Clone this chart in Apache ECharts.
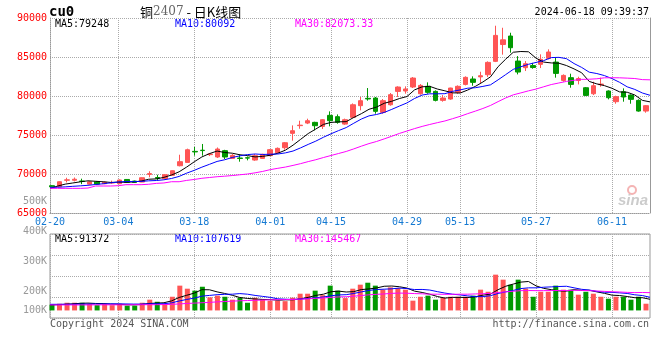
<!DOCTYPE html>
<html><head><meta charset="utf-8">
<script src="https://cdn.jsdelivr.net/npm/echarts@6/dist/echarts.min.js"></script>
<style>html,body{margin:0;padding:0;background:#fff}#c{width:660px;height:360px}</style>
</head><body><div id="c"></div>
<script>
const dates = ['02-20','02-21','02-22','02-23','02-26','02-27','02-28','02-29','03-01','03-04','03-05','03-06','03-07','03-08','03-11','03-12','03-13','03-14','03-15','03-18','03-19','03-20','03-21','03-22','03-25','03-26','03-27','03-28','03-29','04-01','04-02','04-03','04-08','04-09','04-10','04-11','04-12','04-15','04-16','04-17','04-18','04-19','04-22','04-23','04-24','04-25','04-26','04-29','04-30','05-06','05-07','05-08','05-09','05-10','05-13','05-14','05-15','05-16','05-17','05-20','05-21','05-22','05-23','05-24','05-27','05-28','05-29','05-30','05-31','06-03','06-04','06-05','06-06','06-07','06-11','06-12','06-13','06-14','06-17','06-18'];
const labelDates = ['02-20','03-04','03-18','04-01','04-15','04-29','05-13','05-27','06-11'];

const opens = [68500,68370,69200,69200,69100,68700,69000,68750,68850,68760,
69300,69100,68970,69950,69550,69400,69830,71060,71490,72900,
73050,72480,72180,72990,72000,72050,72080,71790,72000,72350,
72730,73370,75210,76200,76530,76620,76100,77520,77350,76400,
77260,78760,79700,79740,77900,78880,80590,80640,81150,80290,
81240,80590,79440,79610,80470,81490,82180,82450,82730,84440,
86600,87690,84480,83630,83900,84060,84820,84350,82000,82350,
82000,81060,80290,81450,80640,79270,80550,80120,79440,78070];
const closes = [68350,69010,69250,69330,69050,69000,68700,68950,68900,69230,
68920,68920,69520,70050,69450,69910,70420,71580,73110,72830,
73000,72560,73200,72180,72390,71990,72040,72350,72520,73115,
73290,74010,75550,76260,76830,76190,76960,76830,76620,76960,
78880,79400,79620,78030,79400,80170,81150,80900,82300,81360,
80470,79440,79740,81020,81240,82390,81750,82600,84310,87770,
87200,86190,83070,84140,83650,84700,85640,82900,82640,81490,
82230,80080,81320,81530,79780,79910,79870,79570,78070,78760];
const lows = [68300,68350,68920,69050,68700,68650,68650,68700,68750,68700,
68900,68880,68950,69580,69230,69350,69800,70980,71450,72350,
72350,72300,72050,71920,71950,71580,71750,71700,71950,72300,
72650,73120,74270,75800,76400,75600,75770,76110,76450,76300,
77200,78160,79400,77730,77730,78760,79870,80300,81020,80170,
80290,79310,79270,79520,80290,81360,81320,81660,82430,84350,
85300,85550,82770,83200,83500,83580,84700,82350,81830,81060,
81490,79990,80120,81190,79570,79010,79270,79010,77990,77860];
const highs = [68560,69050,69520,69550,69400,69050,69050,69000,69150,69300,
69350,69150,69550,70350,69900,69950,70450,72470,73250,73460,
73850,72700,73400,73100,72550,72520,72250,72550,72600,73200,
73400,74100,76230,76830,77090,76700,77050,78030,77640,77100,
79050,79870,81020,79870,79610,80380,81240,81240,82430,81530,
81750,80720,80120,81060,81360,82520,82520,83110,84440,89010,
88750,88110,85120,84480,84250,85340,85980,84910,82770,82860,
82470,81150,81830,82350,80720,80040,80980,80210,79570,78840];

const ma5 = [68150,68450,68700,68850,68998,69128,69066,69006,68920,68956,
68940,68984,69098,69328,69372,69570,69870,70282,70894,71570,
72188,72616,72940,72754,72666,72464,72360,72190,72258,72403,
72663,73057,73697,74445,75188,75768,76358,76614,76686,76712,
77250,77738,78296,78578,79066,79324,79674,79930,80784,81176,
81236,80894,80662,80406,80382,80766,81228,81800,82458,83764,
84722,85610,85704,85670,84846,84350,84240,84206,83906,83474,
82980,81868,81552,81330,80988,80524,80482,80132,79440,79248];
const ma10 = [68290,68300,68350,68420,68480,68550,68650,68750,68870,68977,
69034,69025,69052,69124,69164,69255,69427,69690,70111,70471,
70879,71243,71611,71824,72118,72326,72488,72565,72506,72535,
72564,72709,72944,73352,73796,74216,74708,75156,75566,75950,
76509,77048,77455,77632,77889,78287,78706,79113,79681,80121,
80280,80284,80296,80595,80779,81001,81061,81231,81432,82073,
82744,83419,83752,84064,84305,84536,84925,84955,84788,84160,
83665,83054,82879,82618,82231,81752,81175,80842,80385,80092];
const ma30 = [68160,68160,68160,68160,68160,68200,68460,68460,68460,68500,
68630,68630,68630,68680,68800,68850,69010,69010,69180,69300,
69450,69550,69650,69720,69800,69900,70000,70150,70330,70560,
70730,70890,71100,71330,71590,71830,72110,72370,72630,72890,
73220,73570,73900,74170,74500,74840,75200,75510,75820,76100,
76350,76580,76800,77090,77390,77740,78060,78400,78790,79280,
79750,80150,80400,80660,80890,81180,81470,81670,81870,82020,
82130,82150,82210,82330,82340,82330,82290,82240,82100,82073];

const volumes = [47000,55000,63000,63000,63000,55000,43000,55000,43000,55000,
39000,39000,63000,88000,71000,55000,112000,203000,178000,162000,
194000,107000,121000,112000,88000,104000,63000,104000,93000,80000,
80000,76000,104000,137000,137000,162000,125000,203000,162000,101000,
178000,211000,227000,203000,170000,189000,183000,170000,80000,112000,
121000,88000,104000,112000,112000,112000,121000,170000,153000,293000,
252000,211000,252000,178000,112000,153000,153000,203000,170000,170000,
129000,153000,137000,112000,96000,112000,112000,88000,112000,55000];
const volMa5 = [45000,47000,50000,54000,58000,60000,57000,56000,52000,50000,
47000,46000,48000,57000,60000,63000,78000,106000,124000,142000,
170000,169000,152000,139000,124000,106000,98000,94000,90000,89000,
84000,87000,87000,95000,107000,123000,133000,153000,158000,151000,
154000,171000,176000,184000,198000,200000,194000,183000,158000,147000,
133000,114000,101000,107000,107000,106000,112000,125000,134000,170000,
198000,216000,232000,237000,201000,181000,170000,160000,158000,170000,
165000,165000,152000,140000,125000,122000,114000,104000,104000,91372];
const volMa10 = [50000,50000,51000,51000,52000,52000,53000,53000,54000,54000,
53000,52000,52000,54000,55000,55000,62000,77000,90000,101000,
117000,123000,129000,132000,133000,138000,133000,123000,115000,107000,
95000,92000,90000,93000,98000,104000,110000,120000,127000,129000,
139000,152000,164000,171000,174000,177000,183000,179000,171000,172000,
167000,154000,142000,133000,127000,119000,113000,113000,121000,139000,
152000,164000,179000,185000,185000,190000,193000,196000,198000,185000,
173000,167000,156000,149000,148000,144000,139000,128000,122000,107619];
const volMa30 = [45000,45000,45000,45000,45000,45000,46000,46000,46000,46000,
46000,47000,47000,47000,47000,48000,50000,53000,57000,60000,
63000,66000,70000,73000,76000,79000,81000,83000,85000,87000,
88000,89000,90000,93000,95000,99000,102000,107000,111000,112000,
117000,122000,128000,132000,135000,140000,142000,141000,138000,136000,
133000,133000,132000,132000,133000,133000,135000,137000,139000,147000,
152000,157000,162000,163000,162000,162000,163000,163000,163000,165000,
164000,162000,159000,156000,153000,151000,148000,146000,147000,145467];

const priceMin = 65000, priceMax = 90000, priceStep = 5000;
const volLabelMin = 100000, volLabelMax = 500000, volLabelStep = 100000;
const mainHeader = ['MA5:79248', 'MA10:80092', 'MA30:82073.33'];
const volHeader = ['MA5:91372', 'MA10:107619', 'MA30:145467'];

const UP = '#ff5555', DOWN = '#009900';
const MONO = '"DejaVu Sans Mono", monospace';
const GRIDC = '#aaaaaa';
const isLabelDate = (i, v) => labelDates.indexOf(v) >= 0;

const chart = echarts.init(document.getElementById('c'), null, {renderer: 'canvas'});
const volMin = -62000, volMax = 626000;

const option = {
  animation: false,
  grid: [
    {left: 50, top: 18, width: 600, height: 195, outerBoundsMode: 'none'},
    {left: 52, top: 18, width: 594, height: 195, outerBoundsMode: 'none'},
    {left: 50, top: 234, width: 600, height: 84, show: true, borderColor: '#999', borderWidth: 1, outerBoundsMode: 'none'},
    {left: 52, top: 234, width: 594, height: 84, outerBoundsMode: 'none'},
    {left: 50, top: 201, width: 600, height: 120, outerBoundsMode: 'none'}
  ],
  xAxis: [
    {type: 'category', gridIndex: 0, data: dates, boundaryGap: false,
     axisLine: {show: true, lineStyle: {color: '#999', type: 'dotted'}},
     axisTick: {show: false},
     axisLabel: {interval: isLabelDate, color: '#1479d2', fontFamily: MONO, fontSize: 10, margin: 4},
     splitLine: {show: true, interval: isLabelDate, lineStyle: {color: GRIDC, type: 'dotted'}}},
    {type: 'category', gridIndex: 1, data: dates, boundaryGap: false, show: false},
    {type: 'category', gridIndex: 2, data: dates, boundaryGap: false,
     axisLine: {show: false}, axisTick: {show: false}, axisLabel: {show: false},
     splitLine: {show: true, interval: isLabelDate, lineStyle: {color: GRIDC, type: 'dotted'}}},
    {type: 'category', gridIndex: 3, data: dates, boundaryGap: false, show: false},
    {type: 'category', gridIndex: 4, data: dates, show: false}
  ],
  yAxis: [
    {type: 'value', gridIndex: 0, min: priceMin, max: priceMax, interval: priceStep,
     axisLine: {show: true, lineStyle: {color: '#999', type: 'dotted'}},
     axisTick: {show: false},
     axisLabel: {color: '#ff0000', fontFamily: MONO, fontSize: 10, margin: 3, formatter: v => String(v)},
     splitLine: {show: true, lineStyle: {color: GRIDC, type: 'dotted'}}},
    {type: 'value', gridIndex: 0, position: 'right', min: priceMin, max: priceMax,
     axisLine: {show: true, lineStyle: {color: '#999'}}, axisTick: {show: false},
     axisLabel: {show: false}, splitLine: {show: false}},
    {type: 'value', gridIndex: 1, min: priceMin, max: priceMax, show: false},
    {type: 'value', gridIndex: 2, min: 0, max: 4, interval: 1,
     axisLine: {show: false}, axisTick: {show: false}, axisLabel: {show: false},
     splitLine: {show: true, lineStyle: {color: GRIDC, type: 'dotted'}}},
    {type: 'value', gridIndex: 2, min: volMin, max: volMax, show: false},
    {type: 'value', gridIndex: 3, min: volMin, max: volMax, show: false},
    {type: 'value', gridIndex: 4, min: volLabelMin, max: volLabelMax, interval: volLabelStep,
     axisLine: {show: false}, axisTick: {show: false}, splitLine: {show: false},
     axisLabel: {color: '#999', fontFamily: MONO, fontSize: 10, margin: 3,
       formatter: v => v === volLabelMin ? '{lo|' + (v / 1000) + 'K}' : (v / 1000) + 'K',
       rich: {lo: {color: '#999', fontFamily: MONO, fontSize: 10, padding: [0, 0, 22, 0]}}}}
  ],
  series: [
    {type: 'candlestick', xAxisIndex: 1, yAxisIndex: 2, barWidth: 5, clip: false, silent: true, z: 2,
     data: opens.map((o, i) => [o, closes[i], lows[i], highs[i]]),
     itemStyle: {color: UP, color0: DOWN, borderColor: UP, borderColor0: DOWN, borderWidth: 1}},
    {type: 'line', xAxisIndex: 0, yAxisIndex: 0, data: ma5, symbol: 'none', silent: true, z: 3,
     lineStyle: {color: '#000000', width: 1}},
    {type: 'line', xAxisIndex: 0, yAxisIndex: 0, data: ma10, symbol: 'none', silent: true, z: 3,
     lineStyle: {color: '#0000ff', width: 1}},
    {type: 'line', xAxisIndex: 0, yAxisIndex: 0, data: ma30, symbol: 'none', silent: true, z: 3,
     lineStyle: {color: '#ff00ff', width: 1}},
    {type: 'bar', xAxisIndex: 3, yAxisIndex: 5, barWidth: 5, clip: false, silent: true, z: 2,
     data: volumes.map((v, i) => ({value: v, itemStyle: {color: closes[i] >= opens[i] ? UP : DOWN}}))},
    {type: 'line', xAxisIndex: 2, yAxisIndex: 4, data: volMa5, symbol: 'none', silent: true, z: 3,
     lineStyle: {color: '#000000', width: 1}},
    {type: 'line', xAxisIndex: 2, yAxisIndex: 4, data: volMa10, symbol: 'none', silent: true, z: 3,
     lineStyle: {color: '#0000ff', width: 1}},
    {type: 'line', xAxisIndex: 2, yAxisIndex: 4, data: volMa30, symbol: 'none', silent: true, z: 3,
     lineStyle: {color: '#ff00ff', width: 1}}
  ],
  graphic: [
    {type: 'text', x: 49, y: 12, style: {text: 'cu0', font: 'bold 14px ' + MONO, fill: '#000', verticalAlign: 'middle'}},
    {type: 'text', x: 140, y: 12, style: {text: '{c|铜}{n|2407}{c| - 日K线图}', verticalAlign: 'middle',
      rich: {c: {font: '13px "Noto Sans CJK SC"', fill: '#000'}, n: {font: '12px "DejaVu Serif"', fill: '#666'}}}},
    {type: 'text', x: 649, y: 12, style: {text: '2024-06-18 09:39:37', font: '10px ' + MONO, fill: '#000', textAlign: 'right', verticalAlign: 'middle'}},
    {type: 'text', x: 55, y: 24, style: {text: mainHeader[0], font: '10px ' + MONO, fill: '#000', verticalAlign: 'middle'}},
    {type: 'text', x: 175, y: 24, style: {text: mainHeader[1], font: '10px ' + MONO, fill: '#0000ff', verticalAlign: 'middle'}},
    {type: 'text', x: 295, y: 24, style: {text: mainHeader[2], font: '10px ' + MONO, fill: '#ff00ff', verticalAlign: 'middle'}},
    {type: 'text', x: 55, y: 239, style: {text: volHeader[0], font: '10px ' + MONO, fill: '#000', verticalAlign: 'middle'}},
    {type: 'text', x: 175, y: 239, style: {text: volHeader[1], font: '10px ' + MONO, fill: '#0000ff', verticalAlign: 'middle'}},
    {type: 'text', x: 295, y: 239, style: {text: volHeader[2], font: '10px ' + MONO, fill: '#ff00ff', verticalAlign: 'middle'}},
    {type: 'text', x: 50, y: 324, style: {text: 'Copyright 2024 SINA.COM', font: '10px ' + MONO, fill: '#555', verticalAlign: 'middle'}},
    {type: 'text', x: 649, y: 324, style: {text: 'http://finance.sina.com.cn', font: '10px ' + MONO, fill: '#555', textAlign: 'right', verticalAlign: 'middle'}},
    {type: 'circle', shape: {cx: 632, cy: 190, r: 4}, style: {fill: 'none', stroke: '#f4b4b4', lineWidth: 2}},
    {type: 'text', x: 618, y: 201, style: {text: 'sina', font: 'italic bold 15px "Liberation Sans"', fill: '#cccccc', verticalAlign: 'middle'}}
  ]
};
chart.setOption(option);
</script>
</body></html>
